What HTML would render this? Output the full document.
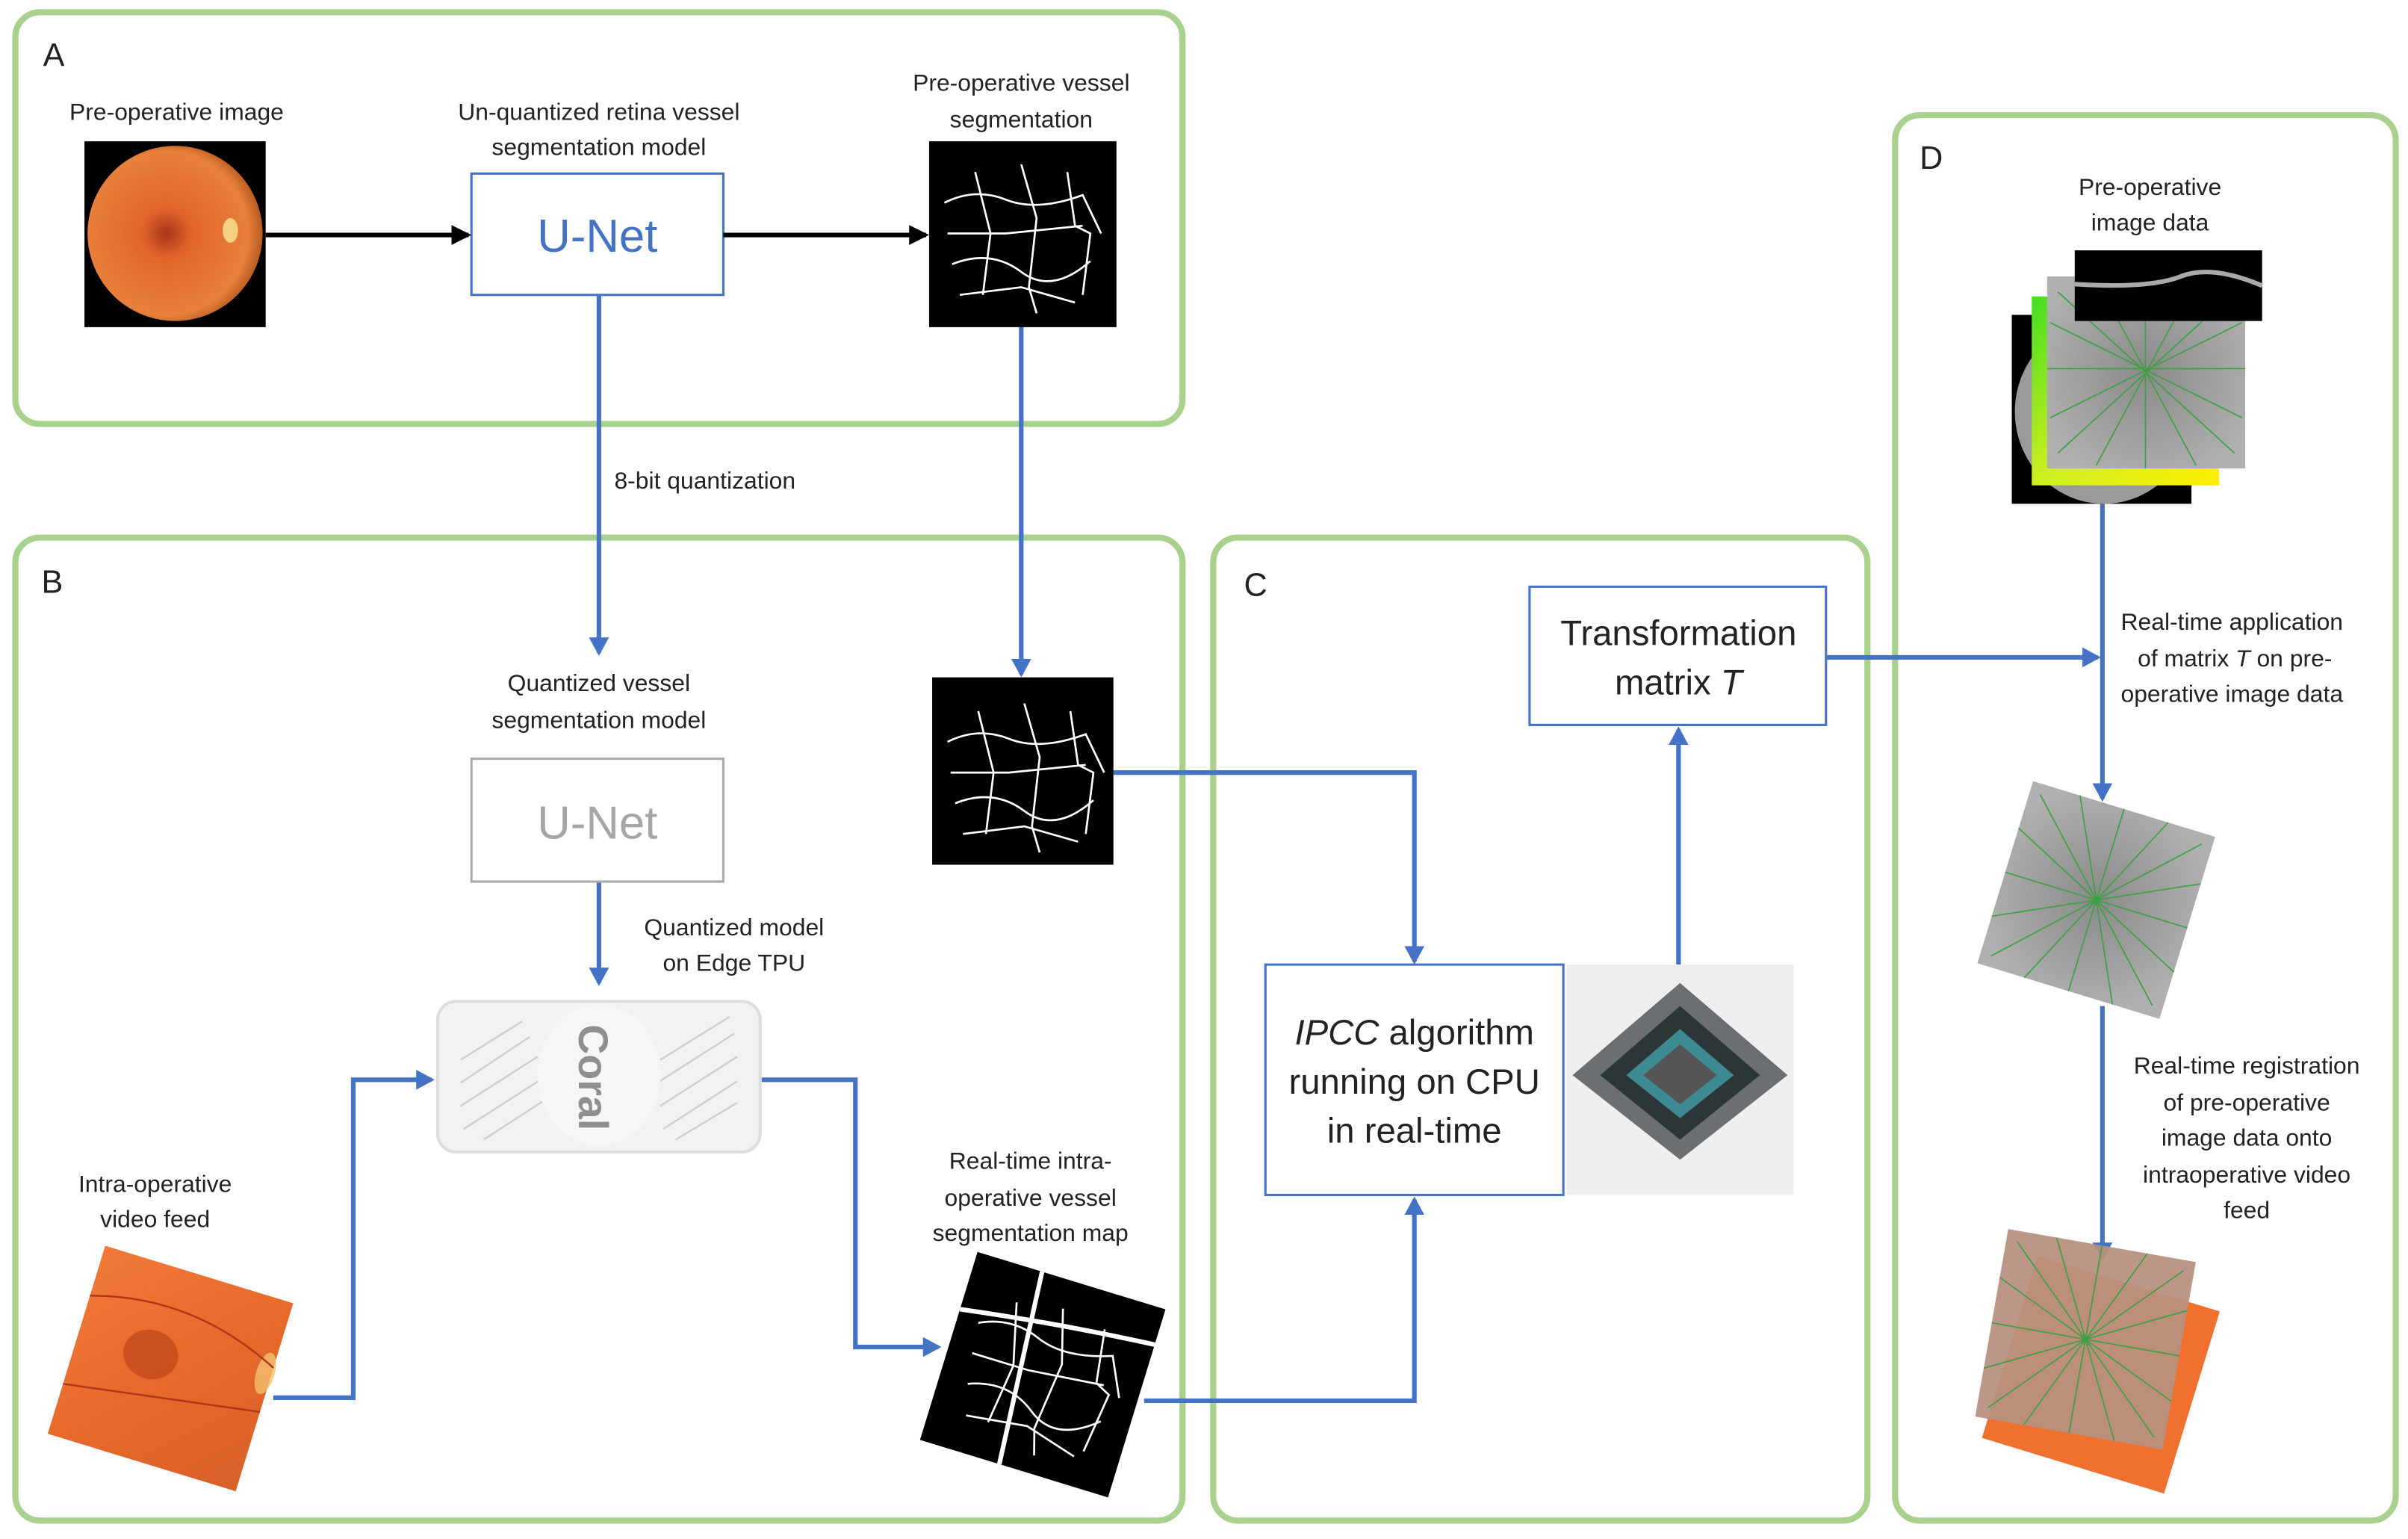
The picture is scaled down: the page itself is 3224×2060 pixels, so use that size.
<!DOCTYPE html>
<html><head><meta charset="utf-8"><style>
html,body{margin:0;padding:0;background:#fff}
svg{display:block}
text{font-family:"Liberation Sans",sans-serif;fill:#222}
</style></head><body>
<svg width="3224" height="2060" viewBox="0 0 1568 1002" preserveAspectRatio="none" xmlns="http://www.w3.org/2000/svg">
<defs>
<radialGradient id="fund" cx="45%" cy="50%" r="55%">
<stop offset="0" stop-color="#a8341a"/><stop offset="0.25" stop-color="#e0642a"/><stop offset="0.85" stop-color="#e8803a"/><stop offset="1" stop-color="#b85a20"/>
</radialGradient>
<linearGradient id="ora" x1="0" y1="0" x2="1" y2="1">
<stop offset="0" stop-color="#f07a3a"/><stop offset="0.5" stop-color="#e86a2a"/><stop offset="1" stop-color="#d8602a"/>
</linearGradient>
<radialGradient id="gray" cx="50%" cy="50%" r="60%">
<stop offset="0" stop-color="#8a8a8a"/><stop offset="1" stop-color="#b0b0b0"/>
</radialGradient>
<linearGradient id="yg" x1="0" y1="0" x2="1" y2="1">
<stop offset="0" stop-color="#44dd22"/><stop offset="0.5" stop-color="#ccee22"/><stop offset="1" stop-color="#ffee00"/>
</linearGradient>
<marker id="ab" markerWidth="14" markerHeight="14" refX="10" refY="6.5" orient="auto" markerUnits="userSpaceOnUse"><path d="M0,0 L12,6.5 L0,13 z" fill="#4472c4"/></marker>
<marker id="ak" markerWidth="14" markerHeight="14" refX="11" refY="6.5" orient="auto" markerUnits="userSpaceOnUse"><path d="M0,0 L13,6.5 L0,13 z" fill="#000"/></marker>
<g id="vess" stroke="#fff" fill="none" stroke-width="1.3">
<path d="M10,40 Q30,30 50,38 T100,35 L112,60"/><path d="M15,80 Q40,70 60,85 T105,78"/><path d="M30,20 L40,60 L35,100"/><path d="M60,15 L70,50 L65,95 L70,112"/><path d="M90,20 L95,55 L105,60 L100,100"/><path d="M12,60 L50,60 L100,55"/><path d="M20,100 L60,95 L95,105"/>
</g>
</defs>

<g fill="none" stroke="#a9d18e" stroke-width="4">
<rect x="10" y="8" width="760" height="268" rx="16"/>
<rect x="10" y="350" width="760" height="640" rx="16"/>
<rect x="790" y="350" width="426" height="640" rx="16"/>
<rect x="1234" y="75" width="326" height="915" rx="16"/>
</g>
<text x="28" y="43" font-size="21">A</text>
<text x="27" y="386" font-size="21">B</text>
<text x="810" y="388" font-size="21">C</text>
<text x="1250" y="110" font-size="21">D</text>

<text x="115" y="78" font-size="15.5" text-anchor="middle">Pre-operative image</text>
<rect x="55" y="92" width="118" height="121" fill="#000"/>
<ellipse cx="114" cy="152" rx="57" ry="57" fill="url(#fund)"/>
<ellipse cx="150" cy="150" rx="5" ry="8" fill="#f5d080"/>
<text x="390" y="78" font-size="15.5" text-anchor="middle">Un-quantized retina vessel</text>
<text x="390" y="101" font-size="15.5" text-anchor="middle">segmentation model</text>
<rect x="307" y="113" width="164" height="79" fill="#fff" stroke="#4472c4" stroke-width="1.5"/>
<text x="389" y="164" font-size="30" text-anchor="middle" style="fill:#4472c4">U-Net</text>
<text x="665" y="59" font-size="15.5" text-anchor="middle">Pre-operative vessel</text>
<text x="665" y="83" font-size="15.5" text-anchor="middle">segmentation</text>
<rect x="605" y="92" width="122" height="121" fill="#000"/>
<use href="#vess" x="605" y="92"/>
<line x1="173" y1="153" x2="305" y2="153" stroke="#000" stroke-width="3" marker-end="url(#ak)"/>
<line x1="471" y1="153" x2="603" y2="153" stroke="#000" stroke-width="3" marker-end="url(#ak)"/>

<g stroke="#4472c4" stroke-width="3" fill="none" marker-end="url(#ab)">
<line x1="390" y1="192" x2="390" y2="425"/>
<line x1="665" y1="213" x2="665" y2="439"/>
<line x1="390" y1="574" x2="390" y2="640"/>
<polyline points="178,910 230,910 230,703 281,703"/>
<polyline points="495,703 557,703 557,877 611,877"/>
<polyline points="745,912 921,912 921,781"/>
<polyline points="725,503 921,503 921,626"/>
<line x1="1093" y1="628" x2="1093" y2="475"/>
<line x1="1189" y1="428" x2="1366" y2="428"/>
<line x1="1369" y1="328" x2="1369" y2="520"/>
<line x1="1369" y1="655" x2="1369" y2="819"/>
</g>
<text x="400" y="318" font-size="15.5">8-bit quantization</text>

<text x="390" y="450" font-size="15.5" text-anchor="middle">Quantized vessel</text>
<text x="390" y="474" font-size="15.5" text-anchor="middle">segmentation model</text>
<rect x="307" y="494" width="164" height="80" fill="#fff" stroke="#aaa" stroke-width="1.5"/>
<text x="389" y="546" font-size="30" text-anchor="middle" style="fill:#a6a6a6">U-Net</text>
<rect x="607" y="441" width="118" height="122" fill="#000"/>
<use href="#vess" x="607" y="443"/>
<text x="478" y="609" font-size="15.5" text-anchor="middle">Quantized model</text>
<text x="478" y="632" font-size="15.5" text-anchor="middle">on Edge TPU</text>
<rect x="285" y="652" width="210" height="98" rx="12" fill="#f2f2f2" stroke="#ddd" stroke-width="2"/>
<g stroke="#cfcfcf" stroke-width="1.2">
<line x1="300" y1="690" x2="340" y2="665"/><line x1="300" y1="705" x2="345" y2="675"/><line x1="300" y1="720" x2="350" y2="688"/><line x1="302" y1="735" x2="352" y2="703"/><line x1="315" y1="742" x2="355" y2="716"/>
<line x1="430" y1="690" x2="475" y2="662"/><line x1="428" y1="705" x2="478" y2="673"/><line x1="430" y1="720" x2="480" y2="688"/><line x1="432" y1="735" x2="480" y2="704"/><line x1="440" y1="742" x2="480" y2="718"/>
</g>
<ellipse cx="390" cy="700" rx="40" ry="46" fill="#f6f6f6"/>
<text x="0" y="0" font-size="27" font-weight="bold" transform="translate(377,667) rotate(90)" style="fill:#8f8f8f">Coral</text>
<text x="101" y="776" font-size="15.5" text-anchor="middle">Intra-operative</text>
<text x="101" y="799" font-size="15.5" text-anchor="middle">video feed</text>
<g transform="translate(111,891) rotate(17)">
<rect x="-64" y="-64" width="128" height="128" fill="url(#ora)"/>
<ellipse cx="-15" cy="-5" rx="18" ry="16" fill="#b8401a" opacity="0.6"/>
<ellipse cx="60" cy="-15" rx="6" ry="14" fill="#f5c070" opacity="0.8"/>
<path d="M-64,-30 Q0,-50 64,-20 M-64,30 Q0,20 64,10" stroke="#b0361a" stroke-width="1.2" fill="none"/>
</g>
<text x="671" y="761" font-size="15.5" text-anchor="middle">Real-time intra-</text>
<text x="671" y="785" font-size="15.5" text-anchor="middle">operative vessel</text>
<text x="671" y="808" font-size="15.5" text-anchor="middle">segmentation map</text>
<g transform="translate(679,895) rotate(17)">
<rect x="-64" y="-64" width="128" height="128" fill="#000"/>
<use href="#vess" x="-60" y="-60" stroke-width="2.5"/>
<path d="M-64,-25 Q0,-35 64,-40 M-20,-64 L-10,64" stroke="#fff" stroke-width="3" fill="none"/>
</g>

<rect x="996" y="382" width="193" height="90" fill="#fff" stroke="#4472c4" stroke-width="1.5"/>
<text x="1093" y="420" font-size="23" text-anchor="middle">Transformation</text>
<text x="1093" y="452" font-size="23" text-anchor="middle">matrix <tspan font-style="italic">T</tspan></text>
<rect x="824" y="628" width="194" height="150" fill="#fff" stroke="#4472c4" stroke-width="1.5"/>
<text x="921" y="680" font-size="23" text-anchor="middle"><tspan font-style="italic">IPCC</tspan> algorithm</text>
<text x="921" y="712" font-size="23" text-anchor="middle">running on CPU</text>
<text x="921" y="744" font-size="23" text-anchor="middle">in real-time</text>
<rect x="1020" y="628" width="148" height="150" fill="#eef0f0"/>
<g transform="translate(1094,700)">
<path d="M0,-60 L70,0 L0,55 L-70,0 z" fill="#6b6f72"/>
<path d="M0,-45 L52,0 L0,42 L-52,0 z" fill="#2c3638"/>
<path d="M0,-30 L35,0 L0,28 L-35,0 z" fill="#3e8a92"/>
<path d="M0,-20 L24,0 L0,19 L-24,0 z" fill="#555"/>
</g>

<text x="1400" y="127" font-size="15.5" text-anchor="middle">Pre-operative</text>
<text x="1400" y="150" font-size="15.5" text-anchor="middle">image data</text>
<rect x="1310" y="205" width="117" height="123" fill="#000"/>
<ellipse cx="1370" cy="268" rx="58" ry="60" fill="#9a9a9a"/>
<rect x="1323" y="193" width="122" height="123" fill="url(#yg)"/>
<rect x="1333" y="180" width="129" height="125" fill="url(#gray)"/>
<g stroke="#3aa040" stroke-width="0.8">
<line x1="1333" y1="240" x2="1462" y2="240"/><line x1="1397" y1="180" x2="1397" y2="305"/><line x1="1340" y1="190" x2="1455" y2="295"/><line x1="1455" y1="190" x2="1340" y2="295"/><line x1="1365" y1="182" x2="1430" y2="303"/><line x1="1430" y1="182" x2="1365" y2="303"/><line x1="1335" y1="210" x2="1460" y2="272"/><line x1="1335" y1="272" x2="1460" y2="210"/>
</g>
<rect x="1351" y="163" width="122" height="46" fill="#000"/>
<path d="M1351,185 Q1400,188 1420,180 T1473,186" stroke="#aaa" stroke-width="3" fill="none"/>
<text x="1381" y="410" font-size="15.5">Real-time application</text>
<text x="1392" y="434" font-size="15.5">of matrix <tspan font-style="italic">T</tspan> on pre-</text>
<text x="1381" y="457" font-size="15.5">operative image data</text>
<g transform="translate(1365,586) rotate(17)">
<rect x="-62" y="-62" width="124" height="124" fill="url(#gray)"/>
<g stroke="#3aa040" stroke-width="0.8"><line x1="-62" y1="0" x2="62" y2="0"/><line x1="0" y1="-62" x2="0" y2="62"/><line x1="-55" y1="-55" x2="55" y2="55"/><line x1="55" y1="-55" x2="-55" y2="55"/><line x1="-30" y1="-62" x2="30" y2="62"/><line x1="30" y1="-62" x2="-30" y2="62"/><line x1="-62" y1="-30" x2="62" y2="30"/><line x1="-62" y1="30" x2="62" y2="-30"/></g>
</g>
<text x="1463" y="699" font-size="15.5" text-anchor="middle">Real-time registration</text>
<text x="1463" y="723" font-size="15.5" text-anchor="middle">of pre-operative</text>
<text x="1463" y="746" font-size="15.5" text-anchor="middle">image data onto</text>
<text x="1463" y="770" font-size="15.5" text-anchor="middle">intraoperative video</text>
<text x="1463" y="793" font-size="15.5" text-anchor="middle">feed</text>
<g transform="translate(1368,895) rotate(17)"><rect x="-62" y="-62" width="124" height="124" fill="#f07030"/></g>
<g transform="translate(1358,872) rotate(10)">
<rect x="-62" y="-62" width="124" height="124" fill="#b89080" opacity="0.95"/>
<g stroke="#3aa040" stroke-width="0.8"><line x1="-62" y1="0" x2="62" y2="0"/><line x1="0" y1="-62" x2="0" y2="62"/><line x1="-55" y1="-55" x2="55" y2="55"/><line x1="55" y1="-55" x2="-55" y2="55"/><line x1="-30" y1="-62" x2="30" y2="62"/><line x1="30" y1="-62" x2="-30" y2="62"/><line x1="-62" y1="-30" x2="62" y2="30"/><line x1="-62" y1="30" x2="62" y2="-30"/></g>
</g>
</svg>
</body></html>
